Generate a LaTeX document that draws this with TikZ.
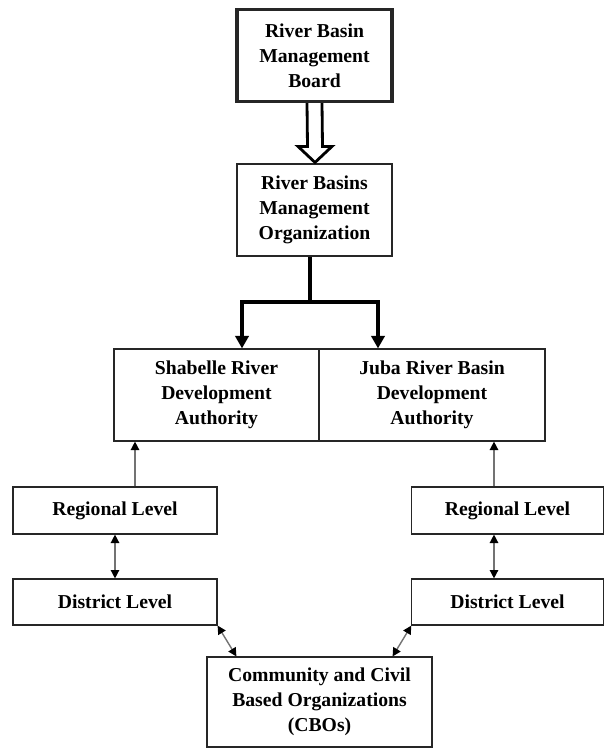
\documentclass[tikz,border=0pt]{standalone}
\usepackage{fontspec}
\setmainfont{Liberation Serif}
\usetikzlibrary{arrows.meta, calc}

\begin{document}
\begin{tikzpicture}[x = 0.025cm, y = -0.025cm,
        box/.style = {draw = black!85, line width = 0.8pt, align = center, inner sep = 0pt,
                      font = \bfseries\fontsize{14}{17.8}\selectfont},
        bigline/.style = {line width = 2.6pt, line join = miter},
        thinarrow/.style = {draw = black!55, line width = 1pt},
        smalltip/.tip = {Triangle[length = 6pt, width = 6pt, color = black]},
        bigtip/.tip = {Triangle[length = 9pt, width = 9.5pt]}]
        \useasboundingbox (0, 0) rectangle (605, 749);
        % boxes
        \node[box, line width = 2.2pt, minimum width = 3.875cm, minimum height = 2.3cm] (board) at (314.5, 55.5) {River Basin\\Management\\Board};
        \node[box, minimum width = 3.875cm, minimum height = 2.3cm] (org) at (314.5, 210) {River Basins\\Management\\Organization};
        \node[box, minimum width = 5.125cm, minimum height = 2.3cm] (shab) at (216.5, 395) {Shabelle River\\Development\\Authority};
        \node[box, minimum width = 5.65cm, minimum height = 2.3cm] (juba) at (432, 395) {Juba River Basin\\Development\\Authority};
        \node[box, minimum width = 5.1cm, minimum height = 1.175cm] (regl) at (115, 510.5) {Regional Level};
        \node[box, minimum width = 4.78cm, minimum height = 1.175cm] (regr) at (507.5, 510.5) {Regional Level};
        \node[box, minimum width = 5.1cm, minimum height = 1.15cm] (distl) at (115, 602) {District Level};
        \node[box, minimum width = 4.78cm, minimum height = 1.15cm] (distr) at (507.5, 602) {District Level};
        \node[box, minimum width = 5.625cm, minimum height = 2.25cm] (cbo) at (319.5, 702) {Community and Civil\\Based Organizations\\(CBOs)};
        % hollow arrow
        \coordinate (head) at ($(org.north)+(0.5, -1)$);
        \draw[line width = 2pt, line join = miter, fill = white] ($(board.south)+(-7.5, 0)$) -- ($(head)+(-7.5, -16)$) -- ($(head)+(-17, -16)$) -- (head)
            -- ($(head)+(17, -16)$) -- ($(head)+(7.5, -16)$) -- ($(board.south)+(7.5, 0)$);
        % fork
        \coordinate (fl) at (242, 302);
        \coordinate (fr) at (378, 302);
        \draw[bigline] ($(org.south)+(-4.5, 0)$) -- ($(org.south |- fl)+(-4.5, 0)$);
        \draw[bigline, bigtip-bigtip] (fl |- shab.north) -- (fl) -- (fr) -- (fr |- juba.north);
        % levels
        \coordinate (upl) at ($(regl.north)+(20, 0)$);
        \coordinate (upr) at ($(regr.north)+(-13.5, 0)$);
        \draw[thinarrow, -smalltip] (upl) -- (upl |- shab.south);
        \draw[thinarrow, -smalltip] (upr) -- (upr |- juba.south);
        \coordinate (dnr) at ($(regr.south)+(-13.5, 0)$);
        \draw[thinarrow, smalltip-smalltip] (regl.south) -- (distl.north);
        \draw[thinarrow, smalltip-smalltip] (dnr) -- (dnr |- distr.north);
        \draw[thinarrow, smalltip-smalltip] (distl.south east) -- ($(cbo.north west)+(30, 0)$);
        \draw[thinarrow, smalltip-smalltip] (distr.south west) -- ($(cbo.north east)+(-40, 0)$);
\end{tikzpicture}
\end{document}
